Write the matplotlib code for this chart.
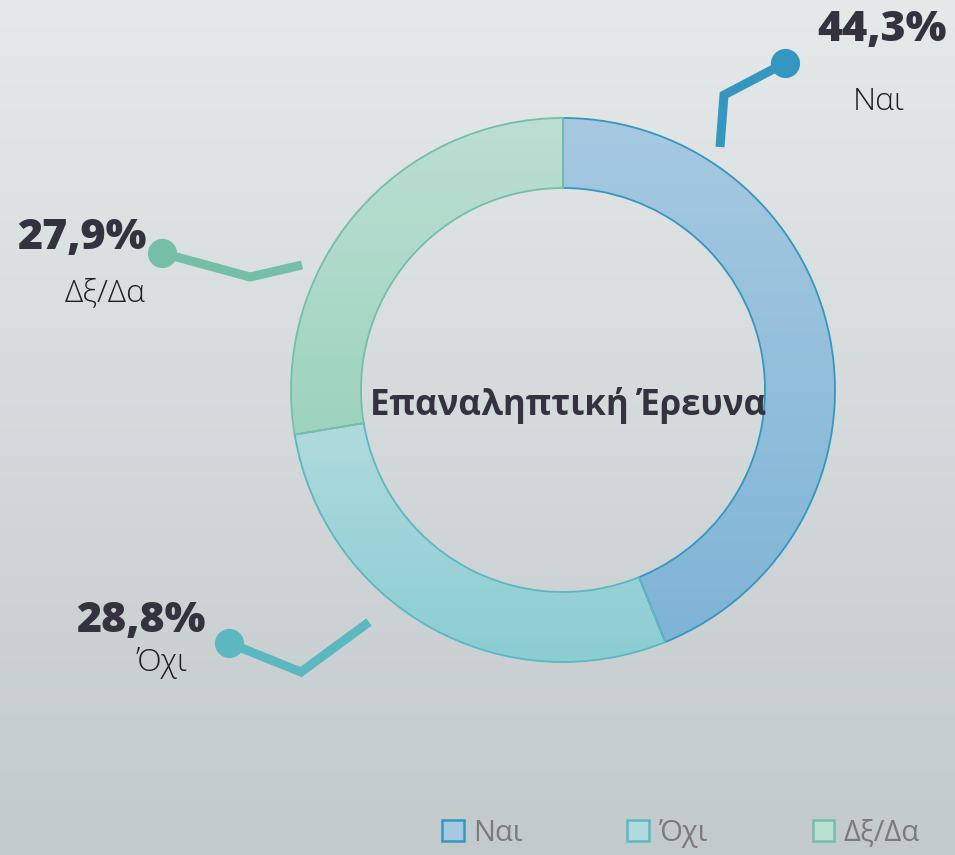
import numpy as np
import matplotlib.pyplot as plt
from matplotlib.colors import LinearSegmentedColormap
from matplotlib.patches import Patch

# data
labels = ['Ναι', 'Όχι', 'Δξ/Δα']
values = [44.3, 28.8, 27.9]
pct_text = ['44,3%', '28,8%', '27,9%']
center_title = 'Επαναληπτική Έρευνα'

edge_colors = ['#3597bf', '#5bb8c1', '#74bfa6']
top_colors = ['#a6c9e1', '#b0dadd', '#bcdfd3']
bottom_colors = ['#7fb4d6', '#8acdd3', '#9dd3bf']

W, H = 955, 855
fig = plt.figure(figsize=(W / 100, H / 100), dpi=100)
ax = fig.add_axes([0, 0, 1, 1])

# background gradient
bg = LinearSegmentedColormap.from_list('bg', ['#c3cacb', '#e5e9ea'])
ax.imshow(np.linspace(0, 1, 256).reshape(-1, 1), cmap=bg, extent=[0, W, 0, H],
          origin='lower', aspect='auto', zorder=0)

# donut
cx, cy, R, ring = 563, 465, 272, 70
wedges, _ = ax.pie(values, center=(cx, cy), radius=R, startangle=90, counterclock=False,
                   wedgeprops=dict(width=ring, linewidth=1.3), colors=top_colors)
for wd, ec, c0, c1 in zip(wedges, edge_colors, top_colors, bottom_colors):
    wd.set_facecolor('none')
    wd.set_edgecolor(ec)
    wd.set_zorder(3)
    ext = wd.get_path().get_extents()
    cm = LinearSegmentedColormap.from_list('w', [c1, c0])
    im = ax.imshow(np.linspace(0, 1, 256).reshape(-1, 1), cmap=cm,
                   extent=[ext.x0, ext.x1, ext.y0, ext.y1], origin='lower',
                   aspect='auto', zorder=2)
    im.set_clip_path(wd)

ax.text(cx + 5, cy - 15, center_title, ha='center', va='center', fontsize=25,
        fontweight='bold', color='#35323f', family='Open Sans', zorder=5)

# leader lines (image pixel coords, y down)
leaders = [
    [(720, 147), (724, 95), (785, 63)],
    [(369, 622), (301, 672), (229, 643)],
    [(302, 265), (250, 277), (162, 253)],
]
pct_pos = [(882, 30), (141, 621), (82, 238)]
lab_pos = [(879, 102), (162, 663), (105, 293)]

for pts, ec, pt, pp, lp, lab in zip(leaders, edge_colors, pct_text, pct_pos, lab_pos, labels):
    xs = [p[0] for p in pts]
    ys = [H - p[1] for p in pts]
    ax.plot(xs, ys, color=ec, lw=6.5, solid_joinstyle='miter', solid_capstyle='butt', zorder=4)
    ax.plot(xs[-1], ys[-1], 'o', color=ec, ms=20, zorder=4)
    ax.text(pp[0], H - pp[1], pt, ha='center', va='center', fontsize=31,
            fontweight='heavy', color='#35323f', family='Open Sans')
    ax.text(lp[0], H - lp[1], lab, ha='center', va='center', fontsize=23,
            fontweight='light', color='#1e1e1e', family='Open Sans')

ax.set_xlim(0, W)
ax.set_ylim(0, H)
ax.set_aspect('auto')
ax.axis('off')

handles = [Patch(facecolor=c, edgecolor=e, linewidth=1.8) for c, e in zip(top_colors, edge_colors)]
leg = ax.legend(handles, labels, ncol=3, loc='lower right', bbox_to_anchor=(0.99, -0.022),
                frameon=False, handlelength=0.75, handleheight=0.75,
                handletextpad=0.3, columnspacing=3.6, prop={'family': 'Open Sans', 'size': 21})
for t in leg.get_texts():
    t.set_color('#7b7b7b')

fig.savefig('out.png', dpi=100)
